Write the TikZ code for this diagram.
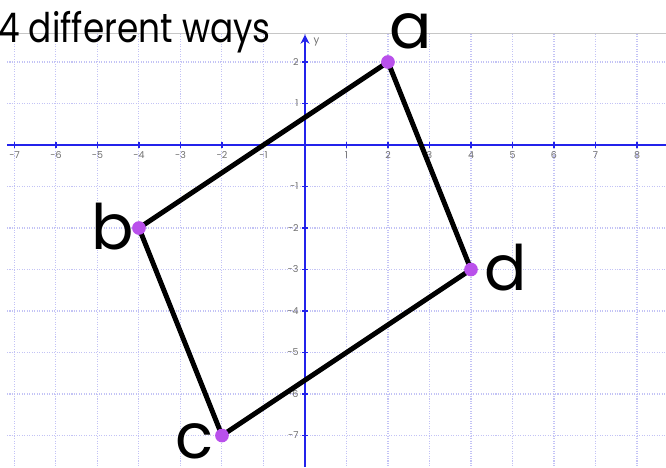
\documentclass[tikz,border=0pt]{standalone}
\usepackage{fontspec}
\setmainfont{Poppins}
\usetikzlibrary{arrows.meta}
\definecolor{gridc}{RGB}{195,195,245}
\definecolor{axisc}{RGB}{35,35,235}
\definecolor{ptc}{RGB}{185,80,235}
\definecolor{tickc}{RGB}{110,110,110}
\tikzset{
  gridline/.style={gridc, densely dotted, line width=0.7pt},
  axisline/.style={axisc, line width=1.1pt},
  ticklab/.style={tickc, font=\fontsize{6.5}{7}\selectfont, inner sep=0pt},
  edge/.style={black, line width=3.4pt, line cap=round},
  dot/.style={circle, fill=ptc, inner sep=0pt, minimum size=0.33cm},
  biglab/.style={font=\fontsize{43}{48}\selectfont, inner sep=0pt, text depth=0pt, anchor=base west},
}
\begin{document}
\begin{tikzpicture}[x=1cm,y=1cm]
\useasboundingbox (-7.349,-7.759) rectangle (8.699,3.494);
\fill[white] (-7.349,-7.759) rectangle (8.699,3.494);
% frame line
\draw[gray!45, line width=0.7pt] (-7.18,2.675) -- (8.699,2.675);
% grid
\foreach \x in {-7,...,8} \draw[gridline] (\x,2.675) -- (\x,-7.759);
\foreach \y in {2,1,-1,-2,-3,-4,-5,-6,-7} \draw[gridline] (-7.18,\y) -- (8.699,\y);
% axes
\draw[axisline] (-7.18,0) -- (8.699,0);
\draw[axisline, -{Stealth[length=2.2mm,width=2.2mm]}] (0,-7.759) -- (0,2.66);
\node[ticklab, font=\fontsize{7}{8}\selectfont] (ylab) at (0.28,2.48) {y};
% ticks and labels
\foreach \x in {-7,...,-1,1,2,...,8} {
  \draw[axisline, line width=0.8pt] (\x,-0.07) -- (\x,0.07);
  \node[ticklab] at (\x,-0.25) {\x};
}
\foreach \y in {2,1,-1,-2,-3,-4,-5,-6,-7} {
  \draw[axisline, line width=0.8pt] (-0.07,\y) -- (0.07,\y);
  \node[ticklab, anchor=east] at (-0.15,\y) {\y};
}
% title
\node[font=\fontsize{28}{32}\selectfont, inner sep=0pt, anchor=base west] (title) at (-7.40,2.48) {\scalebox{0.84}[1]{4 different ways}};
% quadrilateral
\coordinate (A) at (2,2);
\coordinate (B) at (-4,-2);
\coordinate (C) at (-2,-7);
\coordinate (D) at (4,-3);
\draw[edge] (A) -- (B);
\draw[edge] (B) -- (C);
\draw[edge] (C) -- (D);
\draw[edge] (D) -- (A);
\node[dot] (pa) at (A) {};
\node[dot] (pb) at (B) {};
\node[dot] (pc) at (C) {};
\node[dot] (pd) at (D) {};
% letters
\node[biglab] (la) at (2.03,2.337) {a};
\node[biglab] (lb) at (-5.15,-2.53) {b};
\node[biglab] (lc) at (-3.12,-7.56) {c};
\node[biglab] (ld) at (4.32,-3.494) {d};
\end{tikzpicture}
\end{document}
